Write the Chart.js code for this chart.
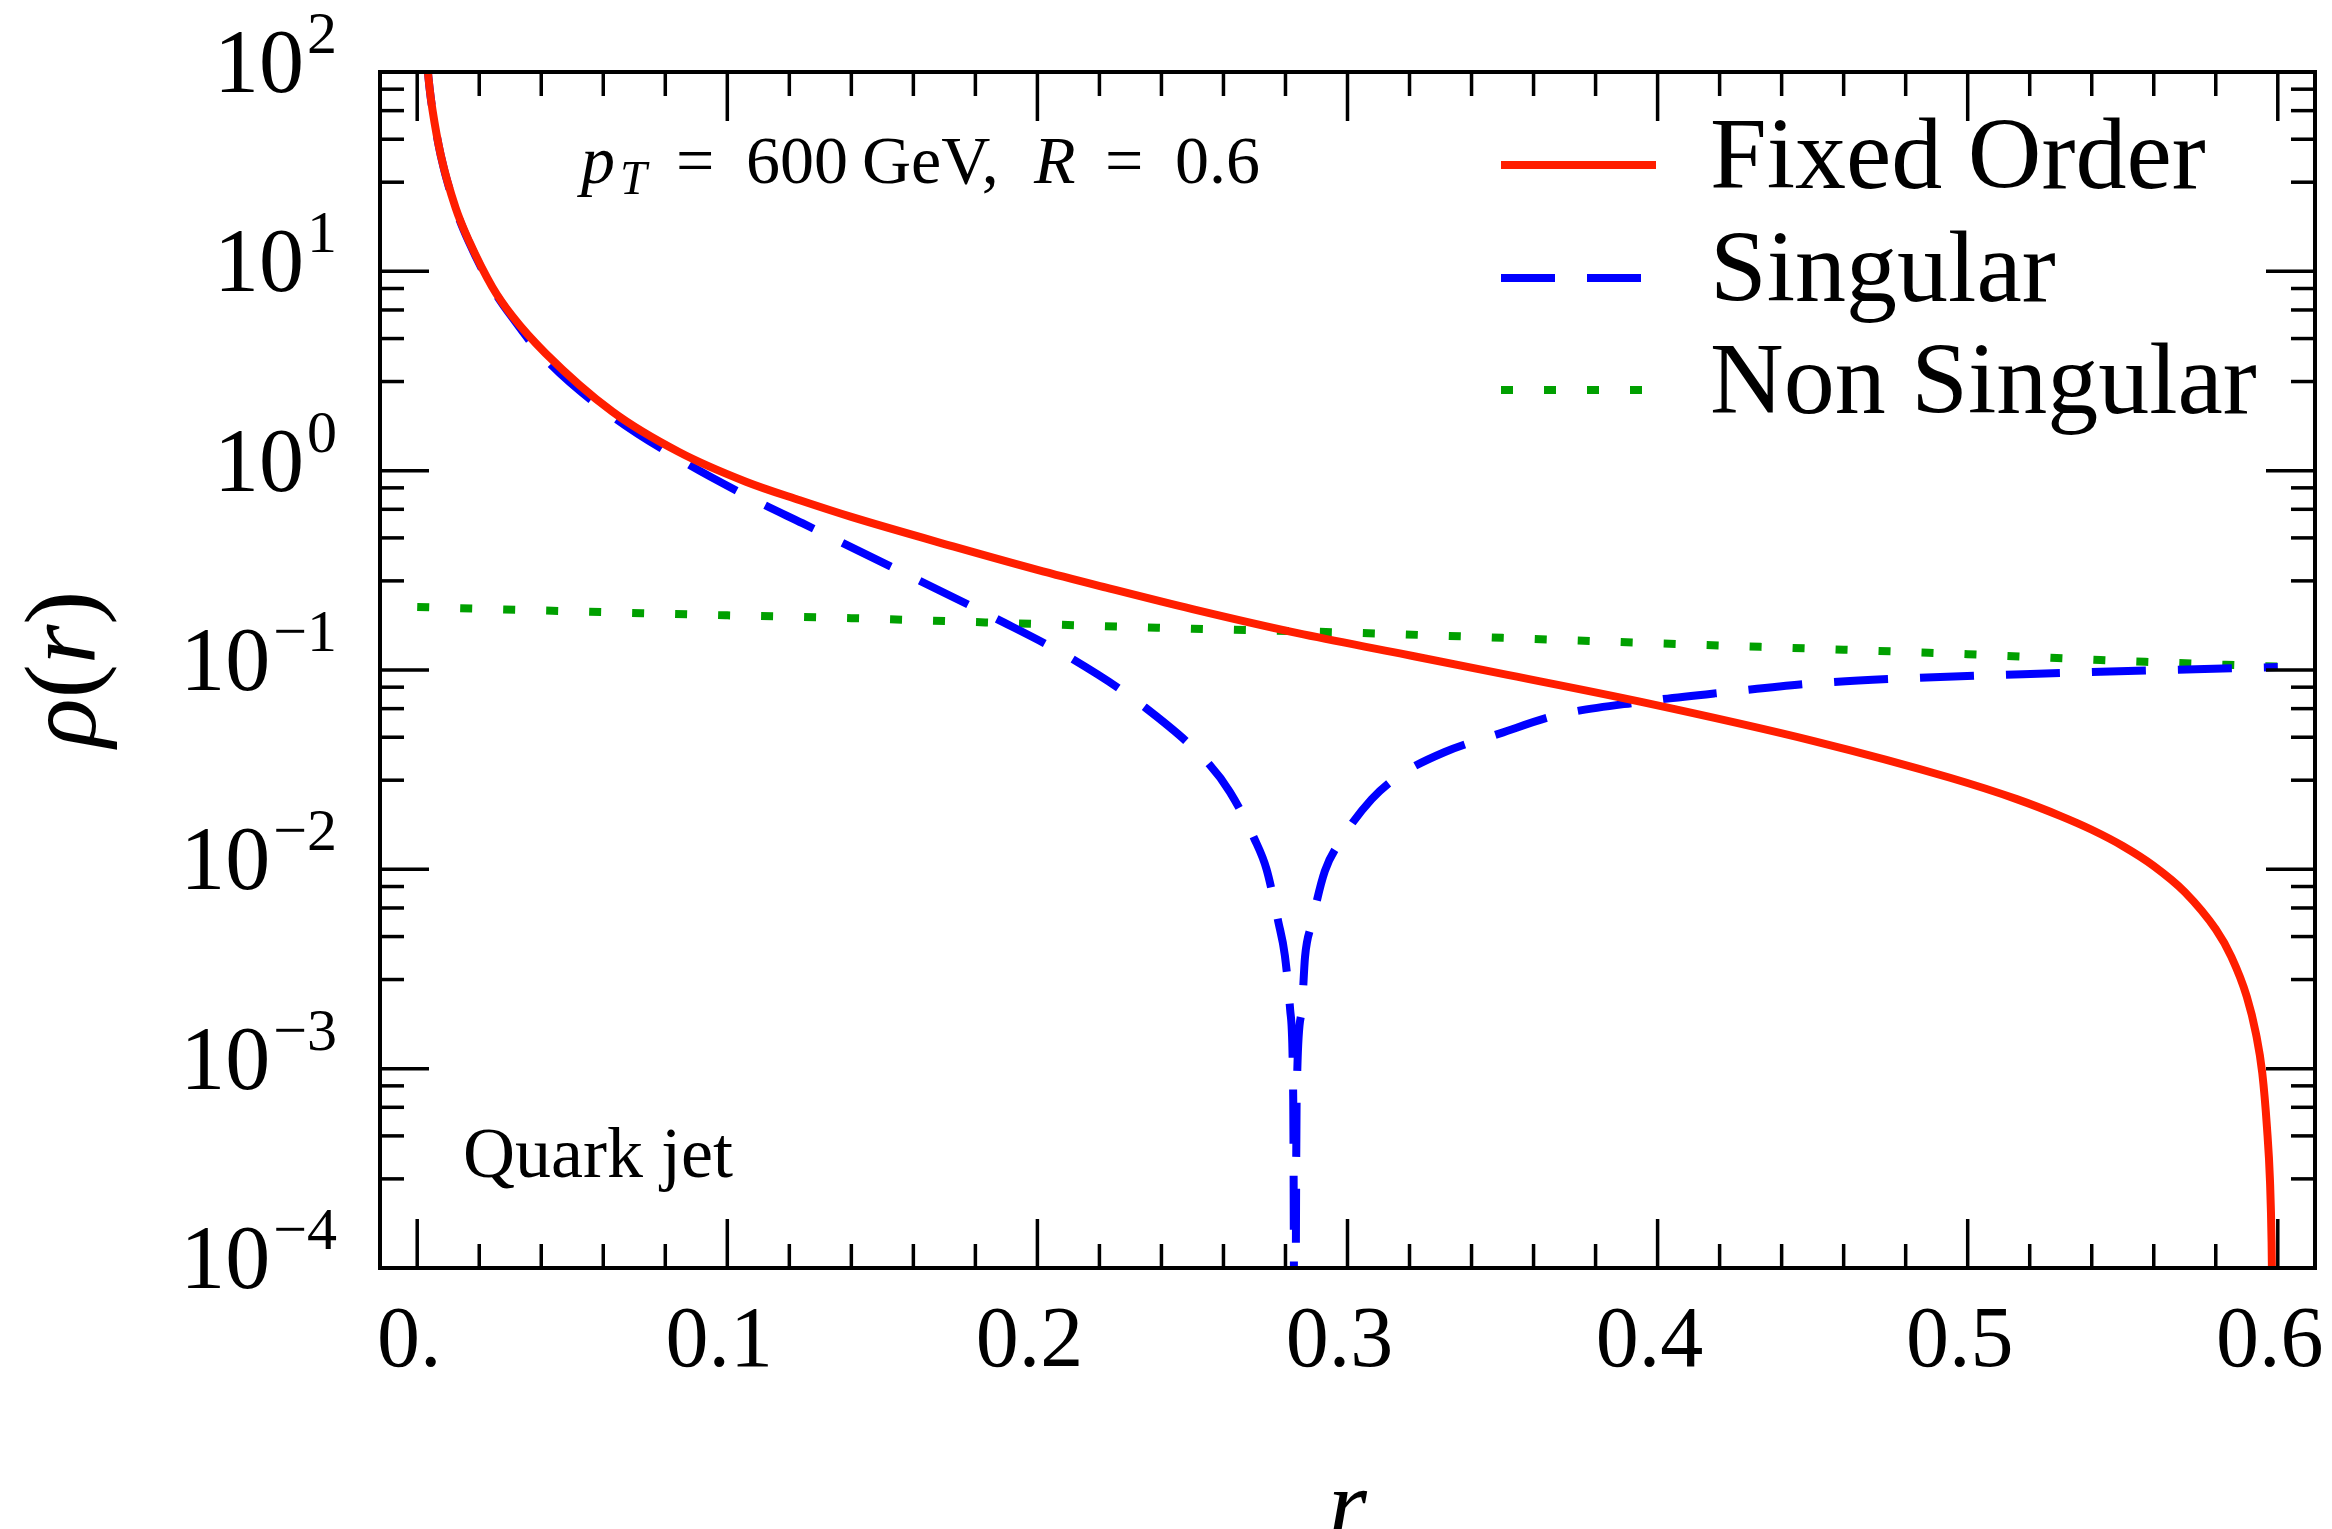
<!DOCTYPE html>
<html>
<head>
<meta charset="utf-8">
<script src="https://cdn.jsdelivr.net/npm/chart.js@4.4.1/dist/chart.umd.min.js"></script>
<style>
  html, body { margin: 0; padding: 0; background: #ffffff; overflow: hidden; }
  canvas { display: block; }
</style>
</head>
<body>
<canvas id="c" width="2332" height="1529" style="width:2332px;height:1529px"></canvas>
<script>
// ---------------- data ----------------
const rFixed = [0.0028, 0.0040, 0.0049, 0.0076, 0.0124, 0.0167, 0.0242, 0.0307, 0.0414, 0.0629,
  0.0844, 0.106, 0.1234, 0.14, 0.1728, 0.2, 0.2222, 0.25, 0.2839, 0.3169, 0.3492, 0.3947,
  0.4504, 0.4943, 0.5158, 0.53, 0.54, 0.55, 0.56, 0.57, 0.58, 0.585, 0.59, 0.593, 0.595,
  0.5965, 0.5975, 0.598, 0.5985];
const fixedOrder = [127, 82.8, 65, 38.3, 20.8, 14.2, 8.35, 5.95, 3.88, 1.98,
  1.24, 0.88, 0.71, 0.586, 0.417, 0.318, 0.259, 0.202, 0.153, 0.1211, 0.0962, 0.0692,
  0.0440, 0.0288, 0.0225, 0.0185, 0.0158, 0.0131, 0.0104, 0.0077, 0.0050, 0.00365, 0.0023, 0.00149, 0.00095,
  0.00051, 0.00027, 0.000135, 0.00003];

const rSingular = [0.0028, 0.0040, 0.0049, 0.0076, 0.0124, 0.0167, 0.0242, 0.0307, 0.0403, 0.0619,
  0.0855, 0.1102, 0.1242, 0.1605, 0.1864, 0.2111, 0.2345, 0.2555, 0.2621, 0.2700, 0.2739, 0.2777,
  0.2798, 0.2815, 0.2825, 0.2830, 0.2836, 0.2852, 0.2863, 0.2884, 0.2927, 0.2976, 0.3078, 0.3166,
  0.3314, 0.3492, 0.3677, 0.3947, 0.4234, 0.4504, 0.4841, 0.5178, 0.5516, 0.6];
// magnitude |Singular| as drawn on the log axis
const singularAbs = [127, 82.7, 64.8, 38.1, 20.6, 14.0, 8.25, 5.85, 3.78, 1.93,
  1.12, 0.695, 0.545, 0.288, 0.182, 0.114, 0.0653, 0.0335, 0.0244, 0.0142, 0.0100, 0.00544,
  0.0037, 0.00198, 0.0007, 0.00001, 0.0007, 0.00193, 0.00363, 0.0053, 0.0098, 0.0138, 0.0225, 0.0295,
  0.0388, 0.0481, 0.0594, 0.0692, 0.0778, 0.0857, 0.0914, 0.0953, 0.0988, 0.1035];

const rNonSingular = [0, 0.05, 0.1, 0.14, 0.2, 0.25, 0.3, 0.35, 0.4, 0.45, 0.5, 0.55, 0.6];
const nonSingular = [0.207, 0.197, 0.188, 0.182, 0.170, 0.161, 0.154, 0.145, 0.136, 0.128, 0.120, 0.111, 0.104];

const seriesNames = ['Fixed Order', 'Singular', 'Non Singular'];

// ticks
const xMajorTicks = [0, 0.1, 0.2, 0.3, 0.4, 0.5, 0.6];
const xTickLabels = ['0.', '0.1', '0.2', '0.3', '0.4', '0.5', '0.6'];
const xMinorTicks = [0.02, 0.04, 0.06, 0.08, 0.12, 0.14, 0.16, 0.18, 0.22, 0.24, 0.26, 0.28,
  0.32, 0.34, 0.36, 0.38, 0.42, 0.44, 0.46, 0.48, 0.52, 0.54, 0.56, 0.58];
const yMajorExponents = [-4, -3, -2, -1, 0, 1, 2];
const yMinorMantissas = [2.8, 4.6, 6.4, 8.2];

const annotationBottom = 'Quark jet';

// ---------------- drawing helpers ----------------
const SERIF = "'Liberation Serif', 'Times New Roman', serif";
const xy = (xs, ys) => xs.map((v, i) => ({ x: v, y: ys[i] }));

function txt(ctx, s, x, y, size, italic, align) {
  ctx.font = (italic ? 'italic ' : '') + size + 'px ' + SERIF;
  ctx.textAlign = align || 'left';
  ctx.textBaseline = 'alphabetic';
  ctx.fillText(s, x, y);
  return ctx.measureText(s).width;
}
function w(ctx, s, size, italic) {
  ctx.font = (italic ? 'italic ' : '') + size + 'px ' + SERIF;
  return ctx.measureText(s).width;
}

const decor = {
  id: 'decor',
  afterDatasetsDraw(chart) {
    const { ctx, chartArea: a, scales: { x, y } } = chart;
    ctx.save();
    ctx.fillStyle = '#000';
    ctx.strokeStyle = '#000';
    // frame
    ctx.lineWidth = 4;
    ctx.strokeRect(a.left, a.top, a.right - a.left, a.bottom - a.top);
    // ticks (inside, mirrored)
    ctx.lineWidth = 3.5;
    ctx.lineCap = 'butt';
    const seg = (x1, y1, x2, y2) => { ctx.beginPath(); ctx.moveTo(x1, y1); ctx.lineTo(x2, y2); ctx.stroke(); };
    const MAJ = 49, MIN = 24;
    xMajorTicks.forEach(v => { const p = x.getPixelForValue(v); seg(p, a.bottom, p, a.bottom - MAJ); seg(p, a.top, p, a.top + MAJ); });
    xMinorTicks.forEach(v => { const p = x.getPixelForValue(v); seg(p, a.bottom, p, a.bottom - MIN); seg(p, a.top, p, a.top + MIN); });
    yMajorExponents.forEach(e => {
      const p = y.getPixelForValue(Math.pow(10, e));
      seg(a.left, p, a.left + MAJ, p); seg(a.right, p, a.right - MAJ, p);
      if (e < 2) yMinorMantissas.forEach(m => {
        const q = y.getPixelForValue(m * Math.pow(10, e));
        seg(a.left, q, a.left + MIN, q); seg(a.right, q, a.right - MIN, q);
      });
    });

    // x tick labels
    xMajorTicks.forEach((v, i) => {
      txt(ctx, xTickLabels[i], x.getPixelForValue(v) - 8, 1366, 86, false, 'center');
    });
    // y tick labels 10^e
    yMajorExponents.forEach(e => {
      const p = y.getPixelForValue(Math.pow(10, e));
      const sup = e < 0 ? '\u2212' + (-e) : String(e);
      const right = 337;
      const ws = w(ctx, sup, 60, false);
      const wb = w(ctx, '10', 90, false);
      txt(ctx, sup, right - ws, p - 19, 60, false, 'left');
      txt(ctx, '10', right - ws - wb - 3, p + 20, 90, false, 'left');
    });

    // annotation: p_T = 600 GeV, R = 0.6
    const AS = 68, AB = 183;
    txt(ctx, 'p', 581, AB, AS, true);
    txt(ctx, 'T', 620, AB + 11, 48, true);
    txt(ctx, '=', 676, AB, AS, false);
    txt(ctx, '600', 746, AB, AS, false);
    txt(ctx, 'GeV,', 862, AB, AS, false);
    txt(ctx, 'R', 1034, AB, AS, true);
    txt(ctx, '=', 1105, AB, AS, false);
    txt(ctx, '0.6', 1175, AB, AS, false);

    // Quark jet
    txt(ctx, annotationBottom, 463, 1177, 72, false);

    // axis titles
    txt(ctx, 'r', (a.left + a.right) / 2, 1538, 100, true, 'center');
    ctx.save();
    ctx.translate(95, 669);
    ctx.rotate(-Math.PI / 2);
    const parts = [['\u03C1', true], ['(', false], ['r', true], [')', false]];
    const total = parts.reduce((s, p) => s + w(ctx, p[0], 102, p[1]), 0);
    let cx = -total / 2;
    parts.forEach(p => { cx += txt(ctx, p[0], cx, 0, 102, p[1]); });
    ctx.restore();

    // legend
    const rows = [165, 278, 390];
    chart.data.datasets.forEach((ds, i) => {
      ctx.save();
      ctx.strokeStyle = ds.borderColor;
      ctx.lineWidth = 8;
      ctx.lineCap = 'butt';
      ctx.setLineDash(ds.borderDash || []);
      seg(1501, rows[i], 1656, rows[i]);
      ctx.restore();
      ctx.fillStyle = '#000';
      txt(ctx, ds.label, 1710, rows[i] + 23, 102, false);
    });
    ctx.restore();
  }
};

new Chart(document.getElementById('c'), {
  type: 'line',
  data: {
    datasets: [
      { label: seriesNames[0], data: xy(rFixed, fixedOrder), borderColor: '#ff1e00', borderWidth: 8,
        pointRadius: 0, cubicInterpolationMode: 'monotone', fill: false, clip: 0 },
      { label: seriesNames[1], data: xy(rSingular, singularAbs), borderColor: '#0000ff', borderWidth: 8,
        borderDash: [54, 32], pointRadius: 0, cubicInterpolationMode: 'monotone', fill: false, clip: 0 },
      { label: seriesNames[2], data: xy(rNonSingular, nonSingular), borderColor: '#00a000', borderWidth: 8,
        borderDash: [12, 31], pointRadius: 0, cubicInterpolationMode: 'monotone', fill: false, clip: 0 }
    ]
  },
  options: {
    responsive: false,
    animation: false,
    devicePixelRatio: 1,
    layout: { padding: { left: 380, top: 72, right: 17, bottom: 261 } },
    elements: { line: { borderCapStyle: 'butt', borderJoinStyle: 'round' } },
    scales: {
      x: { type: 'linear', min: -0.012, max: 0.612, display: false },
      y: { type: 'logarithmic', min: 1e-4, max: 100, display: false }
    },
    plugins: { legend: { display: false }, tooltip: { enabled: false } }
  },
  plugins: [decor]
});
</script>
</body>
</html>
